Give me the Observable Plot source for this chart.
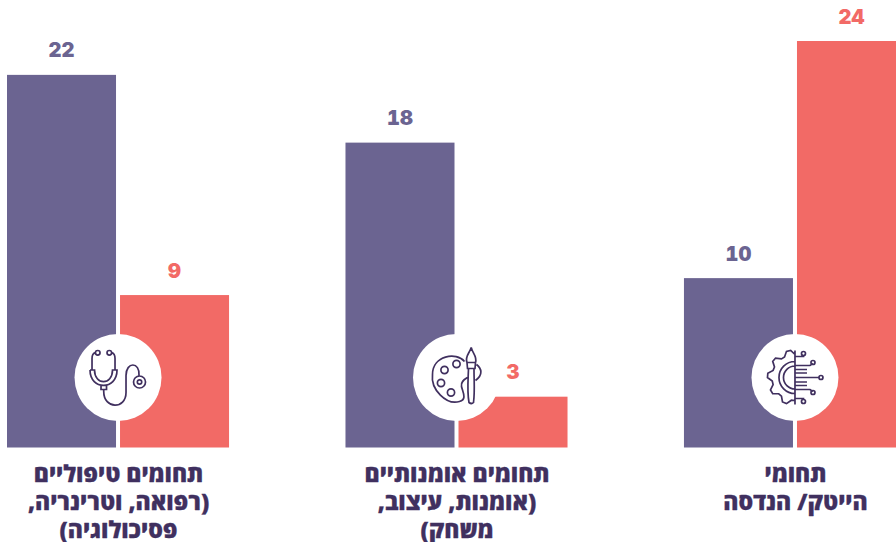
<!DOCTYPE html>
<html lang="he">
<head>
<meta charset="utf-8">
<style>
  html, body { margin: 0; padding: 0; background: #fff; overflow: hidden; }
  svg { display: block; }
</style>
<script src="https://cdn.jsdelivr.net/npm/d3@7"></script>
<script src="https://cdn.jsdelivr.net/npm/@observablehq/plot@0.6"></script>
</head>
<body>
<div id="chart"></div>
<script>
// Fields of study, left to right, with the two values of each
const categories = [
  "תחומים טיפוליים\n(רפואה, וטרינריה,\nפסיכולוגיה)",
  "תחומים אומנותיים\n(אומנות, עיצוב,\nמשחק)",
  "תחומי\nהייטק/ הנדסה"
];
const purpleValues = [22, 18, 10];
const coralValues = [9, 3, 24];

const purple = "#6b6491";
const coral = "#f26a66";
const ink = "#40305f";

const bars = categories.flatMap((category, i) => [
  {category, series: "a", value: purpleValues[i]},
  {category, series: "b", value: coralValues[i]}
]);

// Small line drawings used as dot symbols; each draws around its own origin
const ring = (c, x, y, r) => { c.moveTo(x + r, y); c.arc(x, y, r, 0, 2 * Math.PI); };
const segs = (c, pts) => { pts.forEach(([x, y], i) => i ? c.lineTo(x, y) : c.moveTo(x, y)); };

const stethoscope = {draw(c) {
  ring(c, -20.3, -24.7, 2.3);
  ring(c, -8.7, -24.7, 2.3);
  c.moveTo(-22.6, -25); c.quadraticCurveTo(-26, -24, -26, -19); c.lineTo(-26, -7);
  c.moveTo(-6.4, -25); c.quadraticCurveTo(-3, -24, -3, -19); c.lineTo(-3, -7);
  // chest yoke
  c.moveTo(-28, -7.5); c.lineTo(-23.5, -7.5);
  c.bezierCurveTo(-23.5, 8, -5.5, 8, -5.5, -7.5);
  c.lineTo(-1, -7.5);
  c.bezierCurveTo(-1, 13, -28, 13, -28, -7.5);
  // stem
  segs(c, [[-17, 7], [-17, 12], [-11.5, 12], [-11.5, 7]]);
  // long tube to the diaphragm
  c.moveTo(-14.3, 12); c.lineTo(-14.3, 14);
  c.bezierCurveTo(-14.3, 32, 8, 32, 8, 15);
  c.lineTo(8, -2);
  c.bezierCurveTo(8, -16, 22, -16, 21, -2);
  ring(c, 21.5, 4.5, 6);
  ring(c, 21.5, 4.5, 2.2);
}};

const palette = {draw(c) {
  c.moveTo(8, -16);
  c.bezierCurveTo(0, -26, -24, -22, -24, -3);
  c.bezierCurveTo(-26, 12, -10, 28, 3, 24);
  c.bezierCurveTo(11, 22, 6, 14, 5, 9);
  c.bezierCurveTo(4, 4, 8, 2, 11, 0);
  ring(c, -12, -7.5, 3.6);
  ring(c, 0, -13.5, 3.6);
  ring(c, -15.5, 5.5, 3.6);
  ring(c, -5.5, 15, 3.6);
  // brush handle
  c.moveTo(12, -9); c.bezierCurveTo(11.5, 5, 10.5, 14, 12.5, 25); c.quadraticCurveTo(15, 27, 17, 25);
  c.bezierCurveTo(18.5, 14, 17.5, 5, 17.5, -9);
  // ferrule and bristles
  c.moveTo(11, -9); c.lineTo(18.5, -9); c.lineTo(19, -15); c.lineTo(10.5, -15); c.closePath();
  c.moveTo(10.5, -15); c.bezierCurveTo(8, -21, 13, -24, 14.7, -30);
  c.bezierCurveTo(16, -24, 21, -21, 19, -15);
  // loop of paint behind the brush
  c.moveTo(20, -13); c.bezierCurveTo(25, -9, 27, -3, 19, 3);
}};

const chip = {draw(c) {
  // half gear, traced from the top down through its teeth
  const teeth = 5;
  let started = false;
  for (let i = 0; i <= teeth * 4; i++) {
    const t = -Math.PI / 2 - (i / (teeth * 4)) * Math.PI;
    const phase = i % 4;
    const radius = (phase === 1 || phase === 2) ? 27.5 : 23;
    const x = Math.min(0, radius * Math.cos(t)), y = radius * Math.sin(t);
    if (started) c.lineTo(x, y); else { c.moveTo(x, y); started = true; }
  }
  c.moveTo(0, -16); c.arc(0, 0, 16, -Math.PI / 2, Math.PI / 2, true);
  c.moveTo(0, -11.5); c.arc(0, 0, 11.5, -Math.PI / 2, Math.PI / 2, true);
  c.moveTo(0, -27); c.lineTo(0, 27);
  // circuit traces on the open side
  segs(c, [[0, -21], [8.5, -21], [8.5, -22]]);
  ring(c, 8.5, -24, 2);
  segs(c, [[0, -12], [15, -12], [18, -14]]);
  ring(c, 18, -15, 2);
  segs(c, [[0, -4.5], [12, -4.5]]);
  segs(c, [[0, -8], [12, -8]]);
  segs(c, [[0, 0], [24, 0]]);
  ring(c, 26, 0, 2);
  segs(c, [[0, 4.5], [12, 4.5]]);
  segs(c, [[0, 8], [12, 8]]);
  segs(c, [[0, 12], [15, 12], [18, 14]]);
  ring(c, 18, 15, 2);
  segs(c, [[0, 21], [8.5, 21], [8.5, 22]]);
  ring(c, 8.5, 24, 2);
}};

const icons = [stethoscope, palette, chip];

const chart = Plot.plot({
  width: 896,
  height: 542,
  margin: 0,
  style: {background: "#fff", direction: "rtl"},
  fx: {domain: categories, range: [7, 906], paddingInner: 0.344, paddingOuter: 0, round: false, axis: null},
  x: {domain: ["a", "b"], paddingInner: 0.0354, paddingOuter: 0, round: false, axis: null},
  y: {domain: [0, 24], range: [447.5, 41], axis: null},
  color: {domain: ["a", "b"], range: [purple, coral]},
  marks: [
    Plot.barY(bars, {fx: "category", x: "series", y: "value", fill: "series"}),
    Plot.text(bars, {
      fx: "category", x: "series", y: "value", text: "value", fill: "series",
      lineAnchor: "bottom", dy: -18, dx: -0.5, fontSize: 20, fontWeight: 900, fontFamily: "Inter, sans-serif"
    }),
    // white discs sitting across each pair of bars
    Plot.dot(categories, {fx: d => d, y: [0, 0, 0], dy: -70.5, dx: -0.5, r: 43.5, fill: "#fff", stroke: null}),
    ...icons.map((symbol, i) => Plot.dot([categories[i]], {
      fx: d => d, y: [0], dy: -70.5, dx: -0.5, r: 10, symbol, fill: "none", stroke: ink, strokeWidth: 1.7
    })),
    Plot.text(categories, {
      fx: d => d, y: [0, 0, 0], text: d => d, fill: ink, stroke: ink, strokeWidth: 0.3, lineAnchor: "top", dy: 14.5,
      fontSize: 23, fontWeight: 800, fontFamily: "'Open Sans', sans-serif", lineHeight: 1.21
    })
  ]
});

document.getElementById("chart").append(chart);
</script>
</body>
</html>
